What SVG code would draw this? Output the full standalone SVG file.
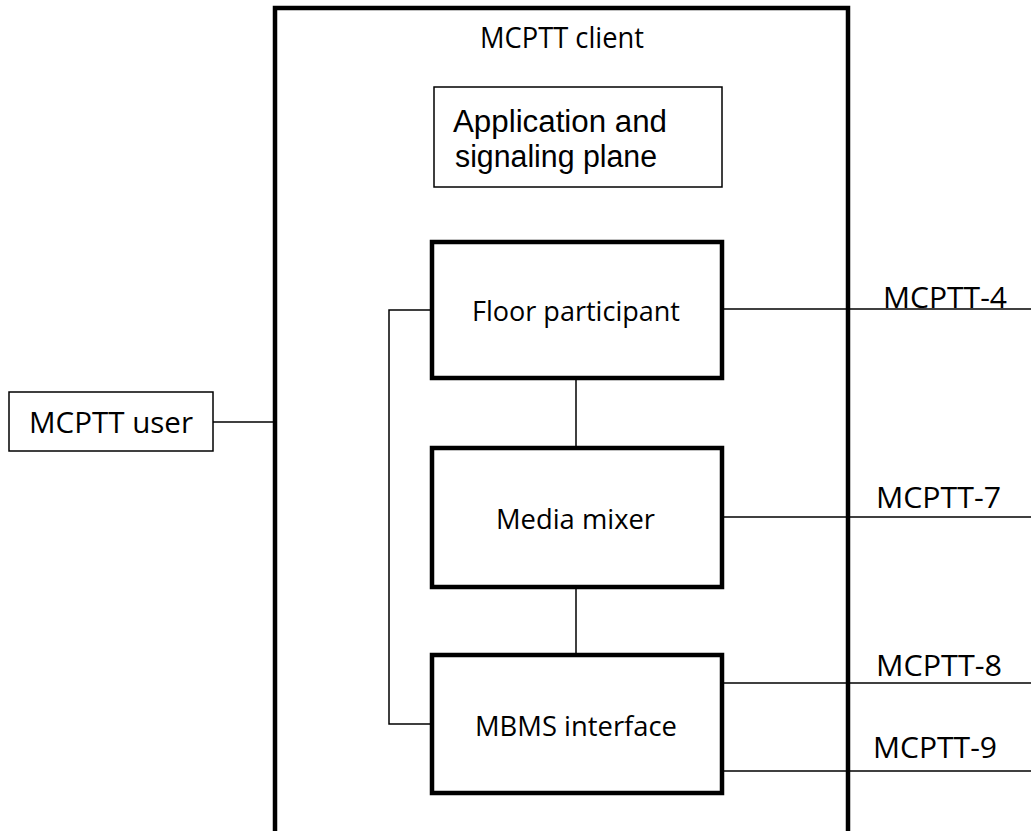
<svg xmlns="http://www.w3.org/2000/svg" width="1031" height="831" viewBox="0 0 1031 831">
<style>
  .thick { fill: #ffffff; stroke: #000000; stroke-width: 4.5; stroke-linejoin: miter; }
  .thin { fill: #ffffff; stroke: #000000; stroke-width: 1.5; }
  .conn { fill: none; stroke: #000000; stroke-width: 1.5; }
  .client { fill: none; stroke: #000000; stroke-width: 4.5; }
  text { font-family: "Open Sans", "Noto Sans", "Liberation Sans", sans-serif; fill: #000000; }
  .lbl { font-size: 29px; }
  .node { font-size: 27px; }
  .plane { font-family: "Liberation Sans", Arial, sans-serif; font-size: 31px; }
</style>
<rect width="1031" height="831" fill="#ffffff"/>
<g id="mcptt-client">
  <path class="client" d="M275,840 V8 H848 V840"/>
  <text class="lbl" x="480" y="48" textLength="164" lengthAdjust="spacingAndGlyphs">MCPTT client</text>
</g>
<g id="connectors">
  <line class="conn" x1="213" y1="422" x2="275" y2="422"/>
  <line class="conn" x1="722" y1="309" x2="1031" y2="309"/>
  <line class="conn" x1="722" y1="517" x2="1031" y2="517"/>
  <line class="conn" x1="722" y1="683" x2="1031" y2="683"/>
  <line class="conn" x1="722" y1="771" x2="1031" y2="771"/>
  <line class="conn" x1="576" y1="378" x2="576" y2="448"/>
  <line class="conn" x1="576" y1="587" x2="576" y2="655"/>
  <polyline class="conn" points="432,310 389,310 389,724 432,724"/>
  <text class="lbl" x="883" y="308" textLength="124" lengthAdjust="spacingAndGlyphs">MCPTT-4</text>
  <text class="lbl" x="876" y="508" textLength="125" lengthAdjust="spacingAndGlyphs">MCPTT-7</text>
  <text class="lbl" x="876" y="676" textLength="126" lengthAdjust="spacingAndGlyphs">MCPTT-8</text>
  <text class="lbl" x="873" y="758" textLength="124" lengthAdjust="spacingAndGlyphs">MCPTT-9</text>
</g>
<g id="mcptt-user">
  <rect class="thin" x="9" y="392" width="204" height="59"/>
  <text class="lbl" x="29" y="433" textLength="164" lengthAdjust="spacingAndGlyphs">MCPTT user</text>
</g>
<g id="app-signaling-plane">
  <rect class="thin" x="434" y="87" width="288" height="100"/>
  <text class="plane" x="453" y="132" textLength="214" lengthAdjust="spacingAndGlyphs">Application and</text>
  <text class="plane" x="455" y="167" textLength="202" lengthAdjust="spacingAndGlyphs">signaling plane</text>
</g>
<g id="floor-participant">
  <rect class="thick" x="432" y="242" width="290" height="136"/>
  <text class="node" x="472" y="321" textLength="208" lengthAdjust="spacingAndGlyphs">Floor participant</text>
</g>
<g id="media-mixer">
  <rect class="thick" x="432" y="448" width="290" height="139"/>
  <text class="node" x="496" y="529" textLength="159" lengthAdjust="spacingAndGlyphs">Media mixer</text>
</g>
<g id="mbms-interface">
  <rect class="thick" x="432" y="655" width="290" height="138"/>
  <text class="node" x="475" y="736" textLength="202" lengthAdjust="spacingAndGlyphs">MBMS interface</text>
</g>
</svg>
